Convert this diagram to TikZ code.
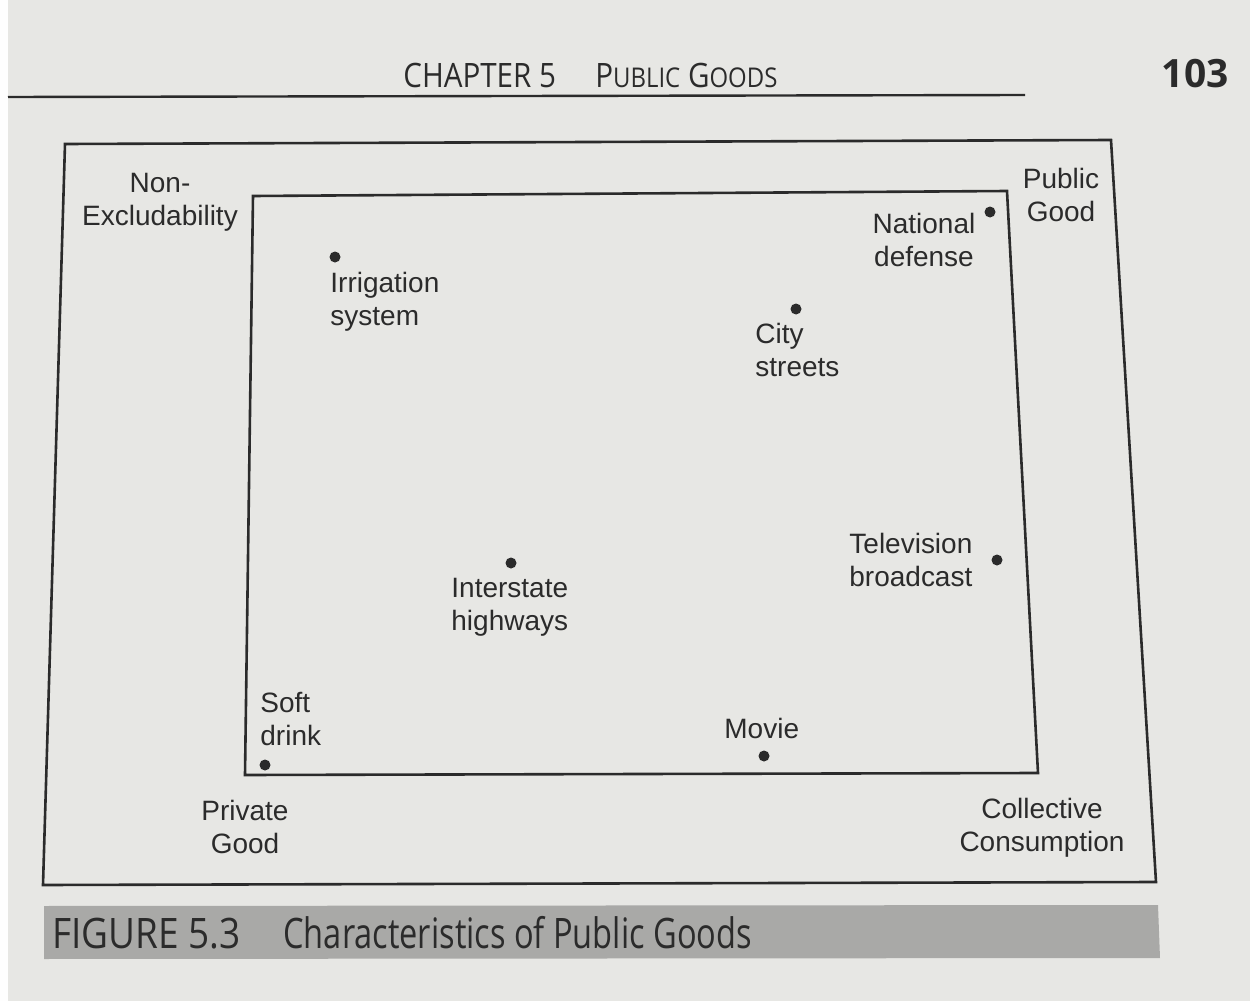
\documentclass[tikz,border=0pt]{standalone}
\usepackage{fontspec}
\setmainfont{Liberation Sans}
\newfontfamily\headfont[FakeStretch=0.88]{Open Sans}
\newfontfamily\figfont[FakeStretch=0.88]{Open Sans}
\newfontfamily\titlefont[FakeStretch=0.775]{Open Sans}
\newfontfamily\numfont{Open Sans}
\definecolor{pagebg}{HTML}{E7E7E4}
\definecolor{ink}{HTML}{2B2B2B}
\definecolor{band}{HTML}{A9A9A7}
\begin{document}
\begin{tikzpicture}[x=0.5pt,y=-0.5pt,
  lbl/.style={inner sep=0pt, text=ink, font=\fontsize{14}{16.5}\selectfont},
  dotmark/.style={circle, fill=ink, inner sep=0pt, minimum size=5.5pt},
  boxline/.style={draw=ink, line width=1.3pt, line join=miter},
  headtxt/.style={inner sep=0pt, text=ink}]
\useasboundingbox (0,0) rectangle (1250,1001);
\fill[pagebg] (0,0) rectangle (1250,1001);
\fill[white!96!pagebg] (0,0) rectangle (8,1001);
% header
\node[headtxt, anchor=base west, font=\headfont\fontsize{16.8}{20}\selectfont] (chap) at (403,87) {CHAPTER 5};
\node[headtxt, anchor=base west, font=\headfont\fontsize{16.8}{20}\selectfont] (pg) at (595,87) {P{\fontsize{13.6}{16}\selectfont UBLIC} G{\fontsize{13.6}{16}\selectfont OODS}};
\node[headtxt, anchor=base east, font=\numfont\bfseries\fontsize{19.5}{22}\selectfont] (num) at (1229,87) {103};
\draw[ink, line width=1.2pt] (8,97) -- (1025,95);
% boxes
\draw[boxline] (65,144) -- (1111,140) -- (1156,882) -- (43,885) -- cycle;
\draw[boxline] (253,196) -- (1007,191) -- (1038,773) -- (245,775) -- cycle;
% corner labels
\node[lbl, anchor=north, align=center] (nonex) at (160,173) {Non-\\Excludability};
\node[lbl, anchor=north, align=center] (pubgood) at (1061,168) {Public\\Good};
\node[lbl, anchor=north, align=center] (privgood) at (245,800) {Private\\Good};
\node[lbl, anchor=north, align=center] (collcons) at (1042,798) {Collective\\Consumption};
% goods
\node[dotmark] (d-nat) at (990,212) {};
\node[lbl, anchor=north, align=center] (nat) at (924,213) {National\\defense};
\node[dotmark] (d-irr) at (335,257) {};
\node[lbl, anchor=north west, align=left] (irr) at (330,272) {Irrigation\\system};
\node[dotmark] (d-city) at (796,309) {};
\node[lbl, anchor=north west, align=left] (city) at (755,323) {City\\streets};
\node[dotmark] (d-tv) at (997,560) {};
\node[lbl, anchor=north west, align=left] (tv) at (849,533) {Television\\broadcast};
\node[dotmark] (d-hwy) at (511,563) {};
\node[lbl, anchor=north west, align=left] (hwy) at (451,578) {Interstate\\highways};
\node[dotmark] (d-soft) at (265,765) {};
\node[lbl, anchor=north west, align=left] (soft) at (260,692) {Soft\\drink};
\node[dotmark] (d-movie) at (764,756) {};
\node[lbl, anchor=north west] (movie) at (724,718) {Movie};
% caption
\fill[band] (44,906) -- (1158,905) -- (1160,958) -- (44,959) -- cycle;
\node[headtxt, anchor=base west, font=\figfont\fontsize{21}{24}\selectfont] (figno) at (52,948) {FIGURE 5.3};
\node[headtxt, anchor=base west, font=\titlefont\fontsize{21}{24}\selectfont] (figtitle) at (283,948) {Characteristics of Public Goods};
\end{tikzpicture}
\end{document}
